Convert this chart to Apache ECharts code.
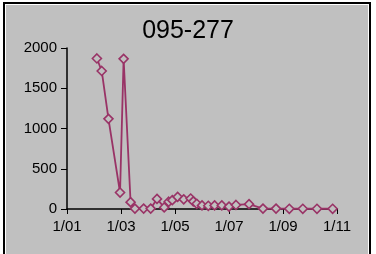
<!DOCTYPE html>
<html>
<head>
<meta charset="utf-8">
<script src="https://cdn.jsdelivr.net/npm/echarts@6/dist/echarts.min.js"></script>
<style>
  html, body { margin: 0; padding: 0; background: #ffffff; overflow: hidden; }
  .frame {
    position: absolute; left: 3px; top: 2px; width: 362px; height: 260px;
    border: 2px solid #000; padding: 1px; background: #fff;
  }
  .panel { width: 100%; height: 100%; background: #c0c0c0; }
  #chart { position: absolute; left: 0; top: 0; width: 376px; height: 254px; }
</style>
</head>
<body>
<div class="frame"><div class="panel"></div></div>
<div id="chart"></div>
<script>
const title = '095-277'

// sample dates (month/day) and readings
const dates = [
  '2/4', '2/9', '2/16', '2/28', '3/4', '3/12', '3/17', '3/27',
  '4/4', '4/11', '4/19', '4/24', '4/28', '5/4', '5/11', '5/19',
  '5/22', '5/26', '6/1', '6/8', '6/15', '6/23', '7/1', '7/9',
  '7/24', '8/9', '8/24', '9/8', '9/23', '10/9', '10/27'
]
const values = [
  1870, 1715, 1120, 205, 1865, 85, 5, 5,
  5, 125, 20, 90, 110, 150, 120, 130,
  95, 65, 45, 40, 45, 45, 30, 50,
  60, 5, 5, 3, 3, 3, 3
]
const monthTicks = ['1/01', '1/03', '1/05', '1/07', '1/09', '1/11']
const yTicks = [0, 500, 1000, 1500, 2000]

const daysInMonth = [31, 28, 31, 30, 31, 30, 31, 31, 30, 31, 30, 31]

// month index with fraction of month, so that 0 = 1 Jan, 2 = 1 Mar ...
function monthPos(str) {
  const [m, d] = str.split('/').map(Number)
  return (m - 1) + (d - 1) / daysInMonth[m - 1]
}

const points = dates.map((d, i) => [monthPos(d), values[i]])

const chart = echarts.init(document.getElementById('chart'))
chart.setOption({
  animation: false,
  title: {
    text: title,
    left: 'center',
    top: 14,
    textStyle: { fontFamily: 'Liberation Sans', fontSize: 25, fontWeight: 'normal', color: '#000' }
  },
  grid: { left: 67, right: 39, top: 48, bottom: 45 },
  xAxis: {
    type: 'value',
    min: 0,
    max: 10,
    interval: 2,
    axisLine: { lineStyle: { color: '#000', width: 1.5 } },
    axisTick: { show: true, length: 5, lineStyle: { color: '#000' } },
    splitLine: { show: false },
    axisLabel: {
      margin: 10,
      color: '#000',
      fontFamily: 'Liberation Sans',
      fontSize: 15,
      formatter: (v) => monthTicks[v / 2]
    }
  },
  yAxis: {
    type: 'value',
    min: yTicks[0],
    max: yTicks[yTicks.length - 1],
    interval: 500,
    axisLine: { show: true, lineStyle: { color: '#000', width: 1.5 } },
    axisTick: { show: true, length: 6, lineStyle: { color: '#000' } },
    splitLine: { show: false },
    axisLabel: {
      margin: 10,
      color: '#000',
      fontFamily: 'Liberation Sans',
      fontSize: 15,
      formatter: (v) => String(v)
    }
  },
  series: [
    {
      type: 'line',
      data: points,
      symbol: 'diamond',
      symbolSize: 9,
      lineStyle: { color: '#993366', width: 1.8 },
      itemStyle: { color: '#c0c0c0', borderColor: '#993366', borderWidth: 1.6 }
    }
  ]
})
</script>
</body>
</html>
